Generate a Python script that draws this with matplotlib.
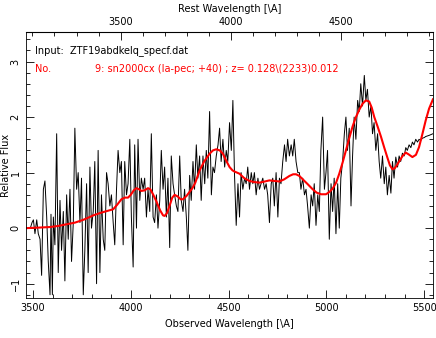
import matplotlib
matplotlib.use("Agg")
import matplotlib.pyplot as plt
from matplotlib.ticker import MultipleLocator, FixedLocator

# observed spectrum
obs_wave = [3488, 3495, 3502, 3510, 3519, 3527, 3536, 3544, 3553, 3561, 3570, 3578,
            3587, 3592, 3599, 3604, 3612, 3621, 3629, 3638, 3646, 3655, 3663, 3672,
            3680, 3689, 3697, 3706, 3714, 3723, 3731, 3740, 3748, 3757, 3765, 3774,
            3782, 3791, 3799, 3808, 3816, 3825, 3833, 3842, 3850, 3859, 3867, 3876,
            3884, 3893, 3901, 3910, 3918, 3927, 3935, 3944, 3952, 3961, 3969, 3978,
            3986, 3995, 4003, 4012, 4020, 4029, 4037, 4046, 4054, 4063, 4071, 4080,
            4088, 4097, 4105, 4114, 4122, 4131, 4139, 4148, 4156, 4165, 4173, 4182,
            4190, 4199, 4207, 4216, 4224, 4233, 4241, 4250, 4258, 4267, 4275, 4284,
            4292, 4301, 4309, 4318, 4326, 4335, 4343, 4352, 4360, 4369, 4378, 4386,
            4394, 4403, 4412, 4420, 4428, 4437, 4446, 4454, 4462, 4471, 4480, 4488,
            4496, 4505, 4514, 4522, 4530, 4539, 4548, 4556, 4564, 4573, 4582, 4590,
            4598, 4607, 4616, 4624, 4632, 4641, 4650, 4658, 4666, 4675, 4684, 4692,
            4700, 4709, 4718, 4726, 4734, 4743, 4752, 4760, 4768, 4777, 4786, 4794,
            4802, 4811, 4820, 4828, 4836, 4845, 4854, 4862, 4870, 4879, 4888, 4896,
            4904, 4913, 4922, 4930, 4938, 4947, 4956, 4964, 4972, 4981, 4990, 4998,
            5006, 5015, 5024, 5032, 5040, 5049, 5058, 5066, 5074, 5083, 5092, 5100,
            5108, 5117, 5126, 5134, 5142, 5151, 5160, 5168, 5176, 5185, 5194, 5202,
            5210, 5219, 5228, 5236, 5244, 5253, 5262, 5270, 5278, 5287, 5296, 5304,
            5312, 5321, 5330, 5338, 5346, 5355, 5364, 5372, 5380, 5389, 5398, 5406,
            5414, 5423, 5432, 5440, 5448, 5457, 5466, 5474, 5482, 5491, 5500, 5508,
            5525, 5545]
obs_flux = [0.02, 0.1, 0.15, -0.1, 0.15, -0.1, -0.2, -0.85, 0.7, 0.85, 0.2, -0.6,
            -1.2, 0.25, -1.2, 0.2, -0.3, 1.7, -0.8, 0.5, -0.4, 0.3, -0.95, 0.6,
            -0.2, 0.7, -0.6, 0.1, 1.8, 0.7, 1.0, 0.1, 0.9, -1.2, -0.4, 0.8,
            -0.8, 1.1, 0.0, 0.3, 1.2, -1.0, 1.4, -0.8, 0.6, -0.2, -0.4, 1.0,
            0.8, 0.4, 0.6, 0.1, -0.3, 0.7, 1.4, 1.0, 1.2, -0.3, 1.2, 0.6,
            0.8, 1.6, 0.2, -0.7, 1.5, 0.0, 1.6, 0.5, 0.9, 0.7, 0.9, 0.2,
            0.7, 0.3, 1.7, 0.2, 0.1, 0.6, 0.0, 0.5, 1.4, 0.7, 1.1, 0.2,
            0.9, -0.35, 1.3, 0.8, 0.6, 0.4, 0.3, 1.3, 0.5, 0.3, 0.7, 0.2,
            -0.4, 0.95, 0.5, 1.2, 0.7, 1.5, 0.9, 1.3, 0.5, 1.3, 0.8, 1.4,
            0.9, 2.1, 0.6, 1.1, 1.0, 1.3, 1.5, 1.8, 1.2, 1.6, 1.1, 1.4,
            1.2, 1.9, 1.4, 2.3, 1.0, 0.05, 0.8, 0.2, 1.0, 0.7, 0.9, 0.8,
            1.1, 0.7, 1.0, 0.8, 1.0, 0.6, 0.9, 0.7, 0.8, 0.9, 0.7, 0.8,
            0.6, 0.1, 0.8, 0.9, 0.4, 1.0, 0.2, 0.9, 0.8, 1.2, 1.5, 1.2,
            1.6, 1.3, 1.5, 1.3, 1.6, 1.2, 1.0, 1.0, 0.7, 0.9, 0.6, 0.7,
            0.4, 0.0, 0.6, 0.4, 0.8, 0.05, 0.6, 0.3, 1.4, 2.0, 0.7, 1.0,
            1.4, -0.2, 0.8, 0.3, 0.9, -0.1, 0.8, 0.0, 0.9, 1.2, 1.7, 2.0,
            1.4, 1.8, 0.4, 1.3, 2.0, 1.6, 2.3, 2.1, 2.6, 2.2, 2.75, 2.3,
            2.5, 2.0, 2.2, 1.7, 1.9, 1.4, 1.7, 1.2, 0.9, 1.3, 0.8, 1.1,
            0.6, 0.95, 0.63, 1.2, 0.9, 1.28, 1.1, 1.3, 1.2, 1.35, 1.3, 1.45,
            1.4, 1.5, 1.45, 1.55, 1.5, 1.6, 1.55, 1.6, 1.58, 1.62, 1.63, 1.65,
            1.67, 1.7]

# template fit (red curve)
tmpl_wave = [3464, 3530, 3587, 3630, 3672, 3715, 3757, 3790, 3808, 3850, 3880,
             3910, 3930, 3952, 3970, 3986, 4000, 4015, 4029, 4042, 4054, 4070,
             4088, 4100, 4115, 4131, 4150, 4165, 4173, 4185, 4200, 4212, 4224,
             4240, 4255, 4267, 4285, 4300, 4315, 4330, 4352, 4375, 4403, 4420,
             4437, 4455, 4471, 4490, 4505, 4520, 4530, 4556, 4580, 4607, 4630,
             4658, 4685, 4709, 4735, 4760, 4785, 4811, 4830, 4845, 4862, 4879,
             4905, 4930, 4950, 4973, 4998, 5015, 5032, 5050, 5066, 5083, 5100,
             5117, 5134, 5150, 5168, 5185, 5202, 5219, 5232, 5245, 5262, 5279,
             5296, 5313, 5325, 5338, 5350, 5360, 5372, 5390, 5406, 5420, 5440,
             5458, 5474, 5490, 5508, 5525, 5545]
tmpl_flux = [0.0, 0.01, 0.02, 0.04, 0.07, 0.10, 0.15, 0.20, 0.23, 0.28, 0.31,
             0.34, 0.42, 0.52, 0.55, 0.55, 0.60, 0.68, 0.72, 0.70, 0.67, 0.68,
             0.72, 0.70, 0.60, 0.48, 0.32, 0.23, 0.22, 0.27, 0.42, 0.55, 0.60,
             0.57, 0.52, 0.52, 0.58, 0.65, 0.72, 0.82, 1.04, 1.20, 1.34, 1.40,
             1.42, 1.40, 1.34, 1.20, 1.10, 1.04, 1.02, 0.98, 0.90, 0.85, 0.83,
             0.82, 0.84, 0.86, 0.85, 0.84, 0.88, 0.94, 0.97, 0.97, 0.94, 0.88,
             0.79, 0.70, 0.64, 0.61, 0.61, 0.65, 0.71, 0.82, 0.98, 1.18, 1.40,
             1.62, 1.83, 1.99, 2.13, 2.24, 2.30, 2.28, 2.17, 2.00, 1.83, 1.65,
             1.45, 1.26, 1.13, 1.06, 1.08, 1.13, 1.20, 1.30, 1.36, 1.33, 1.28,
             1.32, 1.46, 1.68, 1.94, 2.15, 2.32]

rest_ticks = [3500, 4000, 4500]
z = 0.128

fig = plt.figure(figsize=(4.36, 3.38), dpi=100)
ax = fig.add_axes([0.06, 0.118, 0.933, 0.787])

ax.plot(obs_wave, obs_flux, color='black', linewidth=0.7)
ax.plot(tmpl_wave, tmpl_flux, color='red', linewidth=1.5)

ax.set_xlim(3465, 5545)
ax.set_ylim(-1.26, 3.53)

ax.xaxis.set_major_locator(MultipleLocator(500))
ax.xaxis.set_minor_locator(MultipleLocator(100))
ax.yaxis.set_major_locator(MultipleLocator(1))
ax.yaxis.set_minor_locator(MultipleLocator(0.2))
ax.tick_params(which='both', direction='in', right=True, top=False, labelsize=7)
ax.tick_params(which='major', length=6, width=0.6)
ax.tick_params(which='minor', length=3, width=0.6)
ax.tick_params(axis='y', labelrotation=90, pad=4)
for lab in ax.get_yticklabels():
    lab.set_va('center')
for s in ax.spines.values():
    s.set_linewidth(0.6)

ax.set_xlabel(r'Observed Wavelength [\A]', fontsize=7)
ax.set_ylabel('Relative Flux', fontsize=7)
ax.yaxis.set_label_coords(-0.037, 0.5)

top = ax.secondary_xaxis('top', functions=(lambda x: x / (1 + z), lambda x: x * (1 + z)))
top.xaxis.set_major_locator(FixedLocator(rest_ticks))
top.xaxis.set_minor_locator(MultipleLocator(100))
top.tick_params(which='both', direction='in', labelsize=7, width=0.6)
top.tick_params(which='major', length=6)
top.tick_params(which='minor', length=3)
top.set_xlabel(r'Rest Wavelength [\A]', fontsize=7)

ax.text(0.022, 0.93, 'Input:  ZTF19abdkelq_specf.dat', transform=ax.transAxes,
        fontsize=7, color='black', va='center')
ax.text(0.022, 0.862, 'No.', transform=ax.transAxes, fontsize=7, color='red', va='center')
ax.text(0.17, 0.862, r'9: sn2000cx (Ia-pec; +40) ; z= 0.128\(2233)0.012',
        transform=ax.transAxes, fontsize=7, color='red', va='center')

fig.savefig('out.png', dpi=100)
